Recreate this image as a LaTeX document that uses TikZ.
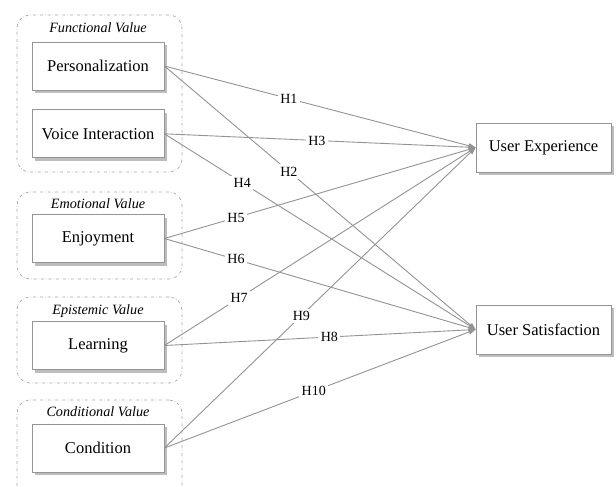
\documentclass[tikz,border=0pt]{standalone}
\usepackage{fontspec}
\setmainfont{Liberation Serif}
\usepackage{tikz}
\usetikzlibrary{positioning,arrows.meta,shadows}
\definecolor{edgegray}{HTML}{939393}
\definecolor{boxgray}{HTML}{959595}
\definecolor{grpgray}{HTML}{A8A8A8}
\definecolor{shadegray}{HTML}{BDBDBD}

\begin{document}
\begin{tikzpicture}[
  x=1pt, y=-1pt,
  varbox/.style={draw=boxgray, line width=0.8pt, fill=white, inner sep=0pt,
                 minimum width=132pt, minimum height=48pt,
                 font=\fontsize{16.5}{18}\selectfont,
                 drop shadow={shadow xshift=3pt, shadow yshift=-3pt,
                              fill=shadegray, opacity=1}},
  outbox/.style={varbox, minimum width=135pt, minimum height=49pt},
  grpbox/.style={draw=grpgray, dash dot, line width=0.7pt, rounded corners=13pt,
                 minimum width=165pt, inner sep=0pt},
  grptitle/.style={font=\fontsize{14.2}{16}\selectfont\itshape, inner sep=0pt},
  hyp/.style={font=\fontsize{14}{16}\selectfont, fill=white, inner sep=2.5pt},
  path/.style={draw=edgegray, line width=0.9pt,
               -{Triangle[length=7pt, width=5pt]}},
]
\clip (0,0) rectangle (616,487);
\useasboundingbox (0,0) rectangle (616,487);

% value groups
\node[grpbox, minimum height=157pt] (funcgrp) at (99.5,93.5) {};
\node[grpbox, minimum height=87pt] (emogrp) at (99.5,235.5) {};
\node[grpbox, minimum height=86pt] (epigrp) at (99.5,340) {};
\node[grpbox, minimum height=100pt] (condgrp) at (99.5,450) {};

% antecedents
\node[varbox] (pers) at (98,66) {Personalization};
\node[varbox, below=19pt of pers] (voice) {Voice Interaction};
\node[varbox] (enjoy) at (98,238.5) {Enjoyment};
\node[varbox] (learn) at (98,345.5) {Learning};
\node[varbox] (cond) at (98,448) {Condition};

\node[grptitle, above=9pt of pers, anchor=base] (functt) {Functional Value};
\node[grptitle, above=6pt of enjoy, anchor=base] (emott) {Emotional Value};
\node[grptitle, above=7pt of learn, anchor=base] (epitt) {Epistemic Value};
\node[grptitle, above=7pt of cond, anchor=base] (condtt) {Conditional Value};

% outcomes
\node[outbox] (ux) at (543.5,147.5) {User Experience};
\node[outbox] (us) at (543.5,329.5) {User Satisfaction};

% hypotheses
\draw[path] (pers.east) -- node[hyp, pos=0.40]{H1} (ux.west);
\draw[path] (pers.east) -- node[hyp, pos=0.40]{H2} (us.west);
\draw[path] (voice.east) -- node[hyp, pos=0.49]{H3} (ux.west);
\draw[path] (voice.east) -- node[hyp, pos=0.25]{H4} (us.west);
\draw[path] (enjoy.east) -- node[hyp, pos=0.23]{H5} (ux.west);
\draw[path] (enjoy.east) -- node[hyp, pos=0.23]{H6} (us.west);
\draw[path] (learn.east) -- node[hyp, pos=0.24]{H7} (ux.west);
\draw[path] (learn.east) -- node[hyp, pos=0.53]{H8} (us.west);
\draw[path] (cond.east) -- node[hyp, pos=0.44]{H9} (ux.west);
\draw[path] (cond.east) -- node[hyp, pos=0.48]{H10} (us.west);
\end{tikzpicture}
\end{document}
